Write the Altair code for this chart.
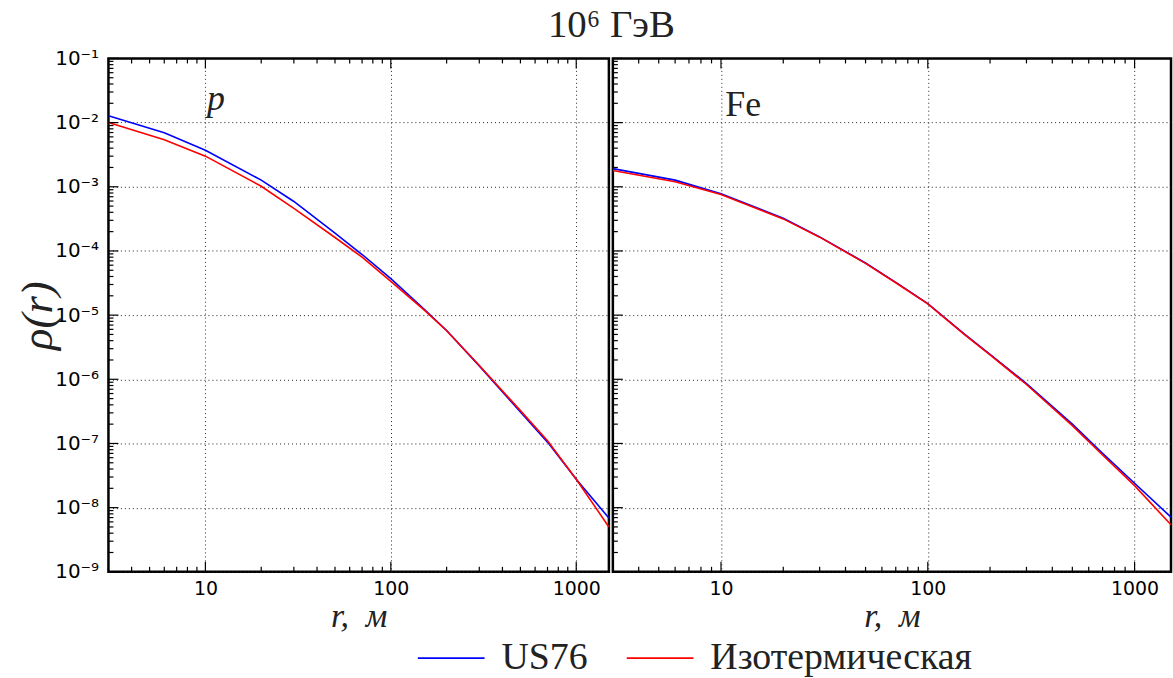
import altair as alt
import pandas as pd

# Radial distance, m
r_vals = [3, 6, 10, 20, 30, 50, 70, 100, 150, 200, 300, 500, 700, 1000, 1500]

# Proton showers, 10^6 GeV
p_us76 = [1.28e-2, 6.95e-3, 3.7e-3, 1.27e-3, 5.9e-4, 1.9e-4, 8.8e-5, 3.7e-5,
          1.27e-5, 5.75e-6, 1.62e-6, 3.1e-7, 1.05e-7, 2.77e-8, 6.9e-9]
p_iso = [1.0e-2, 5.4e-3, 3.0e-3, 1.02e-3, 4.6e-4, 1.62e-4, 8.0e-5, 3.37e-5,
         1.23e-5, 5.7e-6, 1.64e-6, 3.25e-7, 1.1e-7, 2.77e-8, 5.0e-9]

# Iron showers, 10^6 GeV
fe_us76 = [1.92e-3, 1.27e-3, 7.8e-4, 3.24e-4, 1.66e-4, 6.5e-5, 3.24e-5, 1.51e-5,
           5.1e-6, 2.45e-6, 8.6e-7, 2.0e-7, 7.0e-8, 2.4e-8, 7.1e-9]
fe_iso = [1.79e-3, 1.2e-3, 7.6e-4, 3.16e-4, 1.64e-4, 6.4e-5, 3.2e-5, 1.5e-5,
          5.0e-6, 2.4e-6, 8.3e-7, 1.9e-7, 6.6e-8, 2.2e-8, 5.4e-9]

series_names = ["US76", "Изотермическая"]
series_colors = ["#0000ff", "#ff0000"]

x_major = [10, 100, 1000]
x_minor = [v * 10 ** k for k in range(0, 4) for v in range(2, 10)
           if 3 <= v * 10 ** k <= 1500]
y_major = [10.0 ** e for e in range(-9, 0)]
y_minor = [v * 10.0 ** e for e in range(-9, -1) for v in range(2, 10)]
y_sup = ["10⁻⁹", "10⁻⁸", "10⁻⁷", "10⁻⁶", "10⁻⁵", "10⁻⁴", "10⁻³", "10⁻²", "10⁻¹"]

SERIF = "Liberation Serif"
SANS = "DejaVu Sans"
PLOT_H = 516
MAJOR_LEN = 10
MINOR_LEN = 5


def frame(us76, iso):
    rows = []
    for name, vals in zip(series_names, [us76, iso]):
        for r, v in zip(r_vals, vals):
            rows.append({"r": r, "rho": v, "series": name})
    return pd.DataFrame(rows)


xs = alt.Scale(type="log", domain=[3, 1500], nice=False)
ys = alt.Scale(type="log", domain=[1e-9, 1e-1], nice=False)
color = alt.Color(
    "series:N",
    scale=alt.Scale(domain=series_names, range=series_colors),
    legend=alt.Legend(
        title=None, orient="none", direction="horizontal",
        legendX=310, legendY=568,
        symbolType="stroke", symbolSize=4500, symbolStrokeWidth=1.6,
        labelFont=SERIF, labelFontSize=38, labelColor="#222", labelLimit=0,
        columnPadding=35, labelOffset=16,
    ),
)

x_major_df = pd.DataFrame({"v": x_major})
x_minor_df = pd.DataFrame({"v": x_minor})
y_major_df = pd.DataFrame({"v": y_major})
y_minor_df = pd.DataFrame({"v": y_minor})

grid_axis = dict(gridColor="#222", gridDash=[1, 3], gridWidth=1,
                 ticks=False, domain=False, grid=True)
x_axis = alt.Axis(orient="bottom", values=x_major, format="d",
                  labelFont=SANS, labelFontSize=19, labelColor="black",
                  labelPadding=8, title="r,\u2002м", titleFont=SERIF,
                  titleFontSize=34, titleFontWeight="normal",
                  titleFontStyle="italic", titleColor="#222",
                  titlePadding=1, **grid_axis)


def y_axis(show):
    return alt.Axis(orient="left", values=y_major, labels=show,
                    labelExpr=f"{y_sup}[round(log(datum.value)/LN10)+9]",
                    labelFont=SANS, labelFontSize=20, labelColor="black",
                    labelPadding=10, title="ρ(r)" if show else "",
                    titleFont=SERIF, titleFontSize=45, titleFontStyle="italic",
                    titleFontWeight="normal", titleColor="#222",
                    titlePadding=-6, **grid_axis)


def x_ticks(df, length):
    # inward ticks on the bottom and top edges
    bottom = alt.Chart(df).mark_rule(color="black", strokeWidth=1.2).encode(
        x=alt.X("v:Q", scale=xs, axis=x_axis),
        y=alt.value(PLOT_H), y2=alt.value(PLOT_H - length),
    )
    top = alt.Chart(df).mark_rule(color="black", strokeWidth=1.2).encode(
        x=alt.X("v:Q", scale=xs, axis=x_axis),
        y=alt.value(0), y2=alt.value(length),
    )
    return [bottom, top]


def y_ticks(df, length, show):
    # inward ticks on the left edge
    return alt.Chart(df).mark_rule(color="black", strokeWidth=1.2).encode(
        y=alt.Y("v:Q", scale=ys, axis=y_axis(show)),
        x=alt.value(0), x2=alt.value(length),
    )


def panel(df, label, italic, width, show_y):
    lines = alt.Chart(df).mark_line(strokeWidth=1.6, clip=True).encode(
        x=alt.X("r:Q", scale=xs, axis=x_axis),
        y=alt.Y("rho:Q", scale=ys, axis=y_axis(show_y)),
        color=color,
    )

    text = alt.Chart(pd.DataFrame({"t": [label]})).mark_text(
        font=SERIF, fontSize=36, fontStyle="italic" if italic else "normal",
        color="#222", align="center", baseline="alphabetic",
    ).encode(
        text="t:N",
        x=alt.value(108 if italic else 131),
        y=alt.value(52 if italic else 58),
    )

    layers = ([lines]
              + x_ticks(x_major_df, MAJOR_LEN) + x_ticks(x_minor_df, MINOR_LEN)
              + [y_ticks(y_major_df, MAJOR_LEN, show_y),
                 y_ticks(y_minor_df, MINOR_LEN, show_y),
                 text])
    return alt.layer(*layers).properties(width=width, height=PLOT_H)


left = panel(frame(p_us76, p_iso), "p", True, 503, True)
right = panel(frame(fe_us76, fe_iso), "Fe", False, 561, False)

chart = alt.hconcat(left, right, spacing=0).properties(
    title=alt.Title("10⁶ ГэВ", font=SERIF, fontSize=39, fontWeight="normal",
                    color="#222", anchor="middle", offset=2, dx=18),
    padding={"left": 14, "top": 4, "right": 0, "bottom": 0},
).configure_view(
    stroke="black", strokeWidth=2.5
).configure_axis(
    minExtent=0
)

chart.save("out.html", embed_options={"renderer": "svg", "actions": False})
